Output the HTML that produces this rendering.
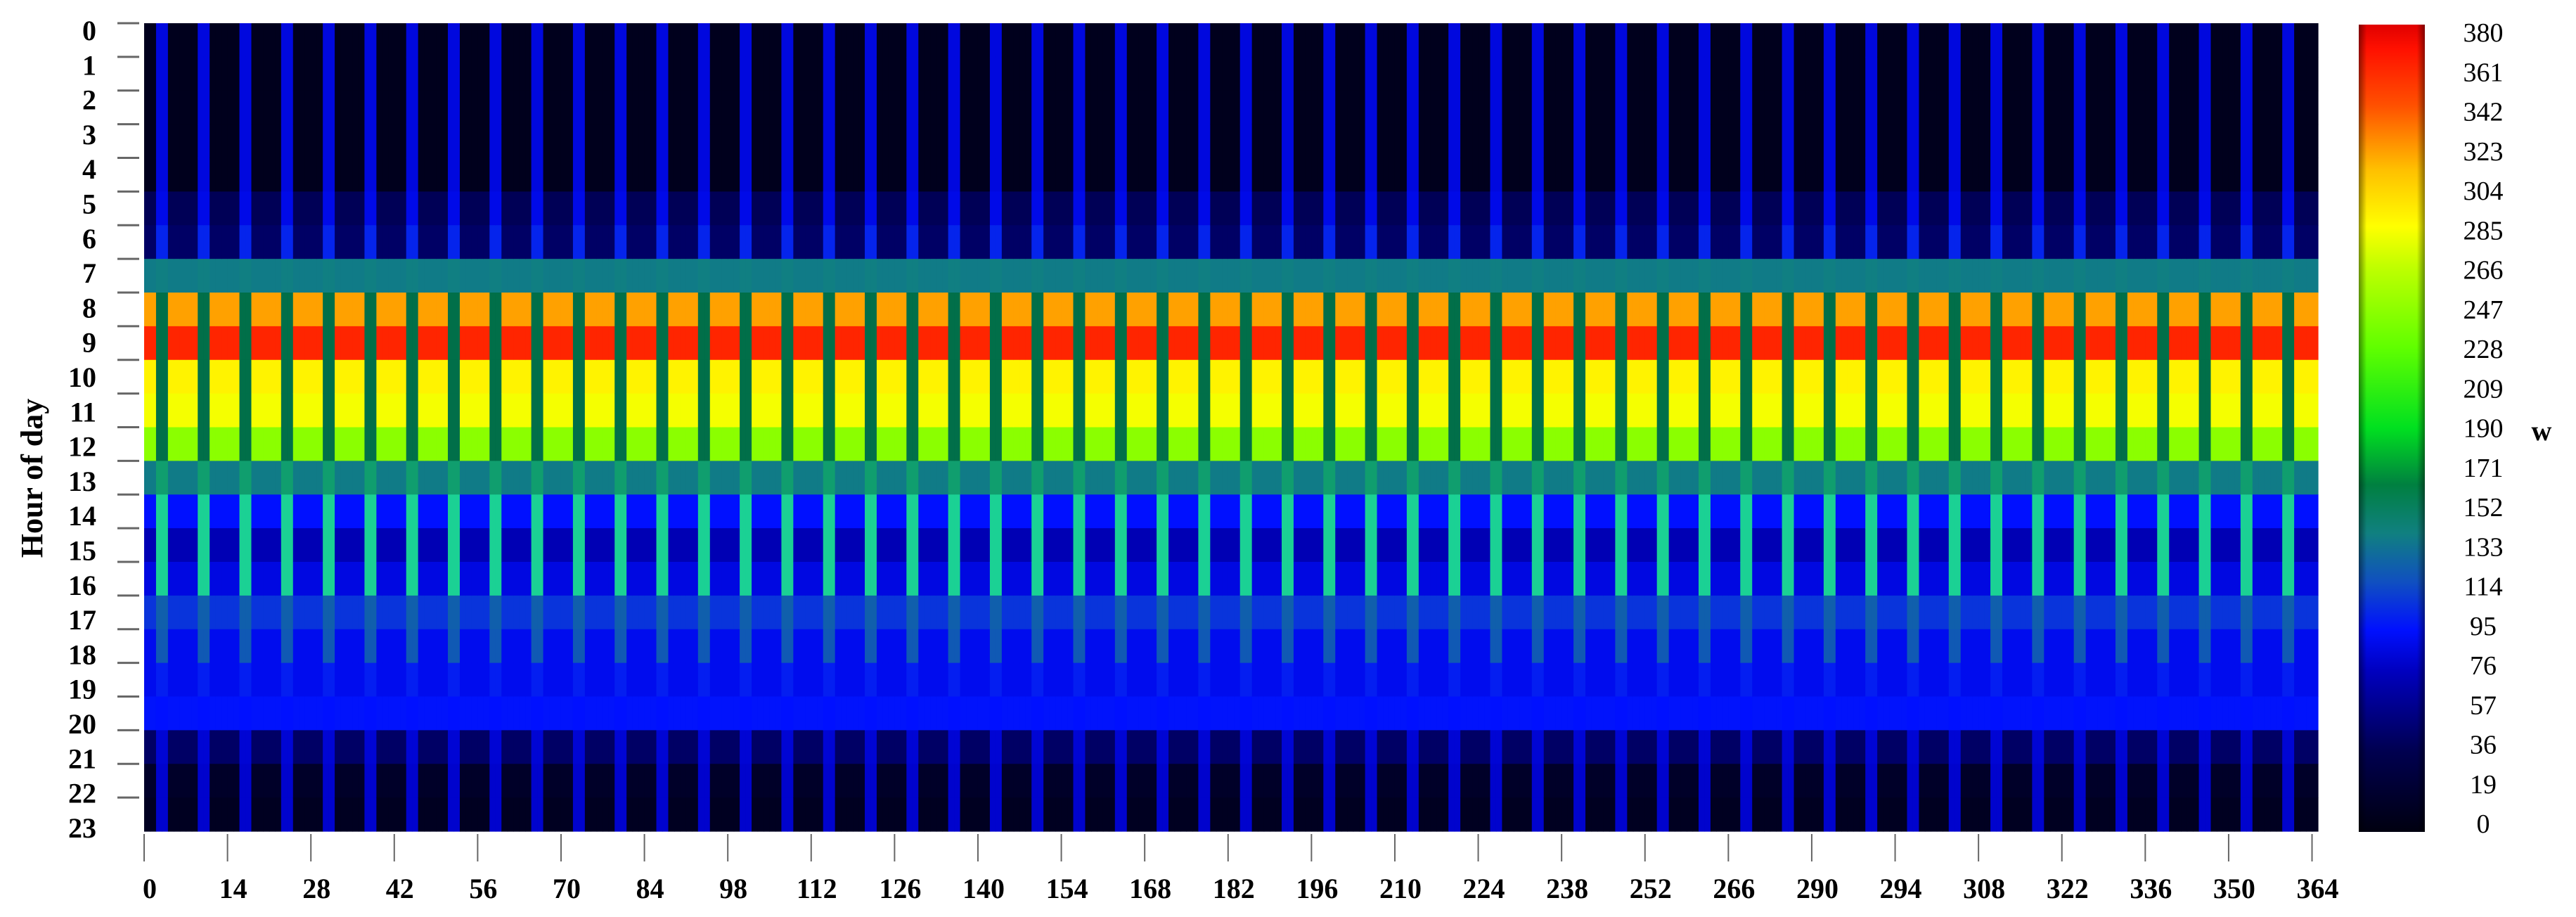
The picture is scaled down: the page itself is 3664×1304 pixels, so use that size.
<!DOCTYPE html>
<html><head><meta charset="utf-8">
<style>
html,body{margin:0;padding:0;background:#fff;}
svg{display:block;}
text{font-family:"Liberation Serif",serif;}
</style></head>
<body>
<svg id="chart" width="3664" height="1304" viewBox="0 0 3664 1304" xmlns="http://www.w3.org/2000/svg">
<defs>
<linearGradient id="cbar" x1="0" y1="1" x2="0" y2="0">
<stop offset="0" stop-color="#000010"/>
<stop offset="0.1" stop-color="#000050"/>
<stop offset="0.2" stop-color="#0000c0"/>
<stop offset="0.25" stop-color="#0010ff"/>
<stop offset="0.31" stop-color="#1050c0"/>
<stop offset="0.37" stop-color="#108080"/>
<stop offset="0.43" stop-color="#008040"/>
<stop offset="0.5" stop-color="#00e020"/>
<stop offset="0.6" stop-color="#60ff00"/>
<stop offset="0.7" stop-color="#c0ff00"/>
<stop offset="0.75" stop-color="#ffff00"/>
<stop offset="0.82" stop-color="#ffc000"/>
<stop offset="0.9" stop-color="#ff5000"/>
<stop offset="0.97" stop-color="#ff1000"/>
<stop offset="1" stop-color="#e00000"/>
</linearGradient>
<linearGradient id="cedge" x1="0" y1="0" x2="1" y2="0">
<stop offset="0" stop-color="#000" stop-opacity="0.45"/>
<stop offset="0.12" stop-color="#000" stop-opacity="0"/>
<stop offset="0.88" stop-color="#000" stop-opacity="0"/>
<stop offset="1" stop-color="#000" stop-opacity="0.45"/>
</linearGradient>
</defs>
<g id="cells"></g>
<g id="axes"></g>
<rect x="3355" y="35" width="94" height="1148" fill="url(#cbar)"/>
<rect x="3355" y="35" width="94" height="1148" fill="url(#cedge)"/>
<text x="0" y="0" transform="translate(60,680) rotate(-90)" text-anchor="middle" font-size="44" font-weight="bold">Hour of day</text>
<text x="3615" y="626" text-anchor="middle" font-size="40" font-weight="bold">w</text>
</svg>
<script>
// ---- data ----
const hours = [0,1,2,3,4,5,6,7,8,9,10,11,12,13,14,15,16,17,18,19,20,21,22,23];
const weekdayProfile = [8,8,8,8,8,40,45,138,320,360,290,282,245,138,95,72,86,108,90,90,96,45,15,10];
const weekendProfile = [85,85,85,85,85,88,102,140,155,155,155,155,155,165,178,178,178,125,122,100,95,82,80,80];
const weekendOffsets = [2,3];
const dayCount = 365;
const xTickLabels = ["0","14","28","42","56","70","84","98","112","126","140","154","168","182","196","210","224","238","252","266","290","294","308","322","336","350","364"];
const cbarLabels = ["380","361","342","323","304","285","266","247","228","209","190","171","152","133","114","95","76","57","36","19","0"];
const vmax = 380;

// ---- scales ----
const X0=205, X1=3297, Y0=33, Y1=1182;
const xScale = d => X0 + d*(X1-X0)/dayCount;
const yScale = h => Y0 + h*(Y1-Y0)/24;
const stops = [[0,[0,0,16]],[0.1,[0,0,80]],[0.2,[0,0,192]],[0.25,[0,16,255]],[0.31,[16,80,192]],[0.37,[16,128,128]],[0.41,[0,110,70]],[0.44,[20,170,120]],[0.48,[30,225,160]],[0.52,[0,230,40]],[0.6,[96,255,0]],[0.7,[192,255,0]],[0.75,[255,255,0]],[0.82,[255,192,0]],[0.9,[255,80,0]],[0.97,[255,16,0]],[1,[224,0,0]]];
function color(v){
  let t=Math.max(0,Math.min(1,v/vmax));
  for(let i=1;i<stops.length;i++){
    if(t<=stops[i][0]){
      const a=stops[i-1],b=stops[i],f=(t-a[0])/(b[0]-a[0]);
      const c=a[1].map((x,k)=>Math.round(x+(b[1][k]-x)*f));
      return `rgb(${c[0]},${c[1]},${c[2]})`;
    }
  }
  return 'rgb(224,0,0)';
}
const NS="http://www.w3.org/2000/svg";
const cells=document.getElementById('cells');
for(let d=0; d<dayCount; d++){
  const isWeekend = weekendOffsets.includes(d%7);
  const prof = isWeekend ? weekendProfile : weekdayProfile;
  const x=xScale(d), w=xScale(d+1)-x;
  hours.forEach((h,i)=>{
    const r=document.createElementNS(NS,'rect');
    
    
    r.setAttribute('x',x.toFixed(2));
    r.setAttribute('y',yScale(h).toFixed(2));
    r.setAttribute('width',(w+0.6).toFixed(2));
    r.setAttribute('height',(yScale(h+1)-yScale(h)+0.6).toFixed(2));
    r.setAttribute('fill',color(prof[i]));
    cells.appendChild(r);
  });
}
const axes=document.getElementById('axes');
// y ticks and labels
hours.forEach((h,i)=>{
  const ly=43+i*49.3, ty=yScale(h);
  const t=document.createElementNS(NS,'line');
  
  
  t.setAttribute('x1',167);t.setAttribute('x2',198);
  t.setAttribute('y1',ty);t.setAttribute('y2',ty);
  t.setAttribute('stroke','#666');t.setAttribute('stroke-width',3);
  axes.appendChild(t);
  const l=document.createElementNS(NS,'text');
  
  
  l.setAttribute('x',137);l.setAttribute('y',ly+14);
  l.setAttribute('text-anchor','end');l.setAttribute('font-size','40');l.setAttribute('font-weight','bold');
  l.textContent=String(h);
  axes.appendChild(l);
});
// x ticks and labels
xTickLabels.forEach((lab,i)=>{
  const x=xScale(i*14);
  const t=document.createElementNS(NS,'line');
  
  
  t.setAttribute('x1',x);t.setAttribute('x2',x);
  t.setAttribute('y1',1186);t.setAttribute('y2',1225);
  t.setAttribute('stroke','#666');t.setAttribute('stroke-width',2);
  axes.appendChild(t);
  const l=document.createElementNS(NS,'text');
  
  
  l.setAttribute('x',x+8);l.setAttribute('y',1277);
  l.setAttribute('text-anchor','middle');l.setAttribute('font-size','40');l.setAttribute('font-weight','bold');
  l.textContent=lab;
  axes.appendChild(l);
});
// colorbar labels
cbarLabels.forEach((lab,i)=>{
  const y=46+i*56.25;
  const l=document.createElementNS(NS,'text');
  
  
  l.setAttribute('x',3532);l.setAttribute('y',y+13);
  l.setAttribute('text-anchor','middle');l.setAttribute('font-size','38');
  l.textContent=lab;
  axes.appendChild(l);
});
</script>
</body></html>
